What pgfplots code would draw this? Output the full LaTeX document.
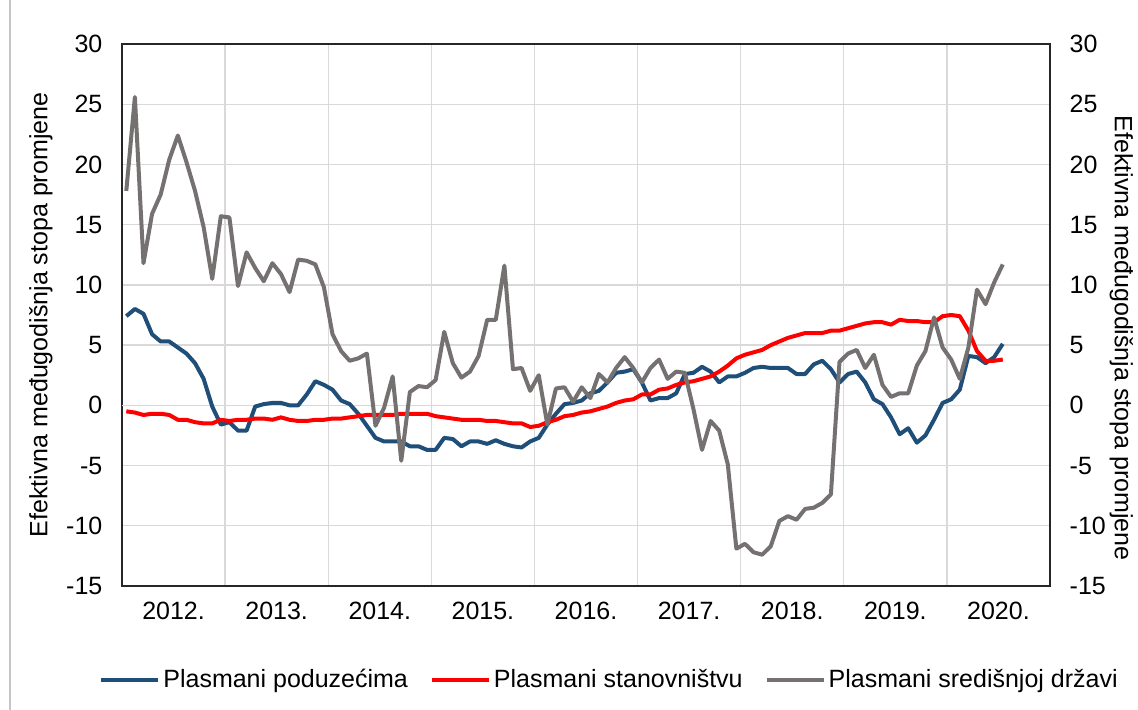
\documentclass[border=0pt]{standalone}
\usepackage{fontspec}
\setmainfont{Liberation Sans}
\usepackage{pgfplots}
\pgfplotsset{compat=1.18}
\usepackage{pgfplotstable}
\definecolor{cblue}{HTML}{1F4E79}
\definecolor{cred}{HTML}{FF0000}
\definecolor{cgray}{HTML}{767171}
\definecolor{gridc}{HTML}{D9D9D9}

\pgfplotstableread{
i pod sta drz
0 7.4 -0.5 17.8
1 8.0 -0.6 25.6
2 7.6 -0.8 11.8
3 5.9 -0.7 15.9
4 5.3 -0.7 17.5
5 5.3 -0.8 20.4
6 4.8 -1.2 22.4
7 4.3 -1.2 20.2
8 3.5 -1.4 17.8
9 2.2 -1.5 14.8
10 -0.1 -1.5 10.5
11 -1.6 -1.2 15.7
12 -1.4 -1.3 15.6
13 -2.1 -1.2 9.9
14 -2.1 -1.2 12.7
15 -0.1 -1.1 11.4
16 0.1 -1.1 10.3
17 0.2 -1.2 11.8
18 0.2 -1.0 10.9
19 0.0 -1.2 9.4
20 0.0 -1.3 12.1
21 0.9 -1.3 12.0
22 2.0 -1.2 11.7
23 1.7 -1.2 9.8
24 1.3 -1.1 5.9
25 0.4 -1.1 4.5
26 0.1 -1.0 3.7
27 -0.7 -0.9 3.9
28 -1.7 -0.8 4.3
29 -2.7 -0.8 -1.7
30 -3.0 -0.8 -0.2
31 -3.0 -0.8 2.4
32 -3.0 -0.7 -4.6
33 -3.4 -0.7 1.1
34 -3.4 -0.7 1.6
35 -3.7 -0.7 1.5
36 -3.7 -0.9 2.1
37 -2.7 -1.0 6.1
38 -2.8 -1.1 3.5
39 -3.4 -1.2 2.3
40 -3.0 -1.2 2.8
41 -3.0 -1.2 4.1
42 -3.2 -1.3 7.1
43 -2.9 -1.3 7.1
44 -3.2 -1.4 11.6
45 -3.4 -1.5 3.0
46 -3.5 -1.5 3.1
47 -3.0 -1.8 1.2
48 -2.7 -1.7 2.5
49 -1.6 -1.4 -1.6
50 -0.7 -1.2 1.4
51 0.1 -0.9 1.5
52 0.2 -0.8 0.3
53 0.4 -0.6 1.5
54 1.0 -0.5 0.6
55 1.2 -0.3 2.6
56 1.9 -0.1 1.9
57 2.7 0.2 3.1
58 2.8 0.4 4.0
59 3.0 0.5 3.1
60 1.9 0.9 1.9
61 0.4 0.9 3.1
62 0.6 1.3 3.8
63 0.6 1.4 2.2
64 1.0 1.7 2.8
65 2.6 1.9 2.7
66 2.7 2.0 -0.3
67 3.2 2.2 -3.7
68 2.8 2.4 -1.3
69 1.9 2.8 -2.1
70 2.4 3.3 -4.9
71 2.4 3.9 -11.9
72 2.7 4.2 -11.5
73 3.1 4.4 -12.2
74 3.2 4.6 -12.4
75 3.1 5.0 -11.7
76 3.1 5.3 -9.6
77 3.1 5.6 -9.2
78 2.6 5.8 -9.5
79 2.6 6.0 -8.6
80 3.4 6.0 -8.5
81 3.7 6.0 -8.1
82 3.0 6.2 -7.4
83 1.9 6.2 3.6
84 2.6 6.4 4.3
85 2.8 6.6 4.6
86 1.9 6.8 3.1
87 0.5 6.9 4.2
88 0.1 6.9 1.7
89 -1.0 6.7 0.7
90 -2.4 7.1 1.0
91 -1.9 7.0 1.0
92 -3.1 7.0 3.3
93 -2.5 6.9 4.5
94 -1.2 6.9 7.3
95 0.2 7.4 4.8
96 0.5 7.5 3.8
97 1.3 7.4 2.2
98 4.1 6.2 4.8
99 4.0 4.5 9.6
100 3.5 3.7 8.4
101 4.0 3.7 10.2
102 5.1 3.8 11.7
}\data

\begin{document}
\begin{tikzpicture}
\useasboundingbox (0,0) rectangle (569pt,355pt);
\draw[gray!45, line width=0.6pt] (5pt,0) -- (5pt,355pt);
\begin{axis}[
  at={(61pt,62pt)}, anchor=south west,
  width=464pt, height=271pt, scale only axis,
  xmin=-0.5, xmax=107.5, ymin=-15, ymax=30,
  font=\fontsize{12.5}{15}\selectfont,
  /pgf/number format/assume math mode=true,
  xtick={5.5,17.5,29.5,41.5,53.5,65.5,77.5,89.5,101.5},
  xticklabels={2012.,2013.,2014.,2015.,2016.,2017.,2018.,2019.,2020.},
  minor xtick={11.5,23.5,35.5,47.5,59.5,71.5,83.5,95.5},
  xminorgrids, minor x grid style={gridc, line width=0.7pt},
  major tick length=0pt, minor tick length=0pt,
  ytick={-15,-10,-5,0,5,10,15,20,25,30},
  yticklabels={-15,-10,-5,0,5,10,15,20,25,30},
  ymajorgrids, major y grid style={gridc, line width=0.7pt},
  extra y ticks={0}, extra y tick labels={},
  extra y tick style={grid=major, major grid style={black, line width=0.8pt}},
  axis line style={draw=black!85, line width=0.7pt},
  yticklabel style={xshift=-6.3pt},
  xticklabel style={yshift=-4.6pt},
  ylabel={Efektivna međugodišnja stopa promjene},
  every axis y label/.style={at={(axis description cs:-0.0873,0.5)}, rotate=90, anchor=center},
  legend style={at={(axis description cs:0.5259,-0.1734)}, anchor=center, draw=none,
    legend columns=3, /tikz/every even column/.append style={column sep=9.5pt},
    font=\fontsize{12.5}{15}\selectfont, nodes={inner sep=1.5pt}},
  legend cell align=left,
  legend image code/.code={\draw[#1] (0pt,0pt) -- (28.5pt,0pt);},
  every axis plot/.append style={line width=2pt, line join=round, no markers},
]
\addplot[cblue] table[x=i, y=pod] {\data};
\addlegendentry{Plasmani poduzećima}
\addplot[cred] table[x=i, y=sta] {\data};
\addlegendentry{Plasmani stanovništvu}
\addplot[cgray] table[x=i, y=drz] {\data};
\addlegendentry{Plasmani središnjoj državi}
\end{axis}
\begin{axis}[
  at={(61pt,62pt)}, anchor=south west,
  width=464pt, height=271pt, scale only axis,
  xmin=-0.5, xmax=107.5, ymin=-15, ymax=30,
  font=\fontsize{12.5}{15}\selectfont,
  axis x line=none, axis y line*=right,
  axis line style={draw=black!85, line width=0.7pt},
  major tick length=0pt,
  ytick={-15,-10,-5,0,5,10,15,20,25,30},
  yticklabels={-15,-10,-5,0,5,10,15,20,25,30},
  yticklabel style={xshift=6.3pt},
  ylabel={Efektivna međugodišnja stopa promjene},
  every axis y label/.style={at={(axis description cs:1.077,0.457)}, rotate=-90, anchor=center},
]
\end{axis}
\end{tikzpicture}
\end{document}
